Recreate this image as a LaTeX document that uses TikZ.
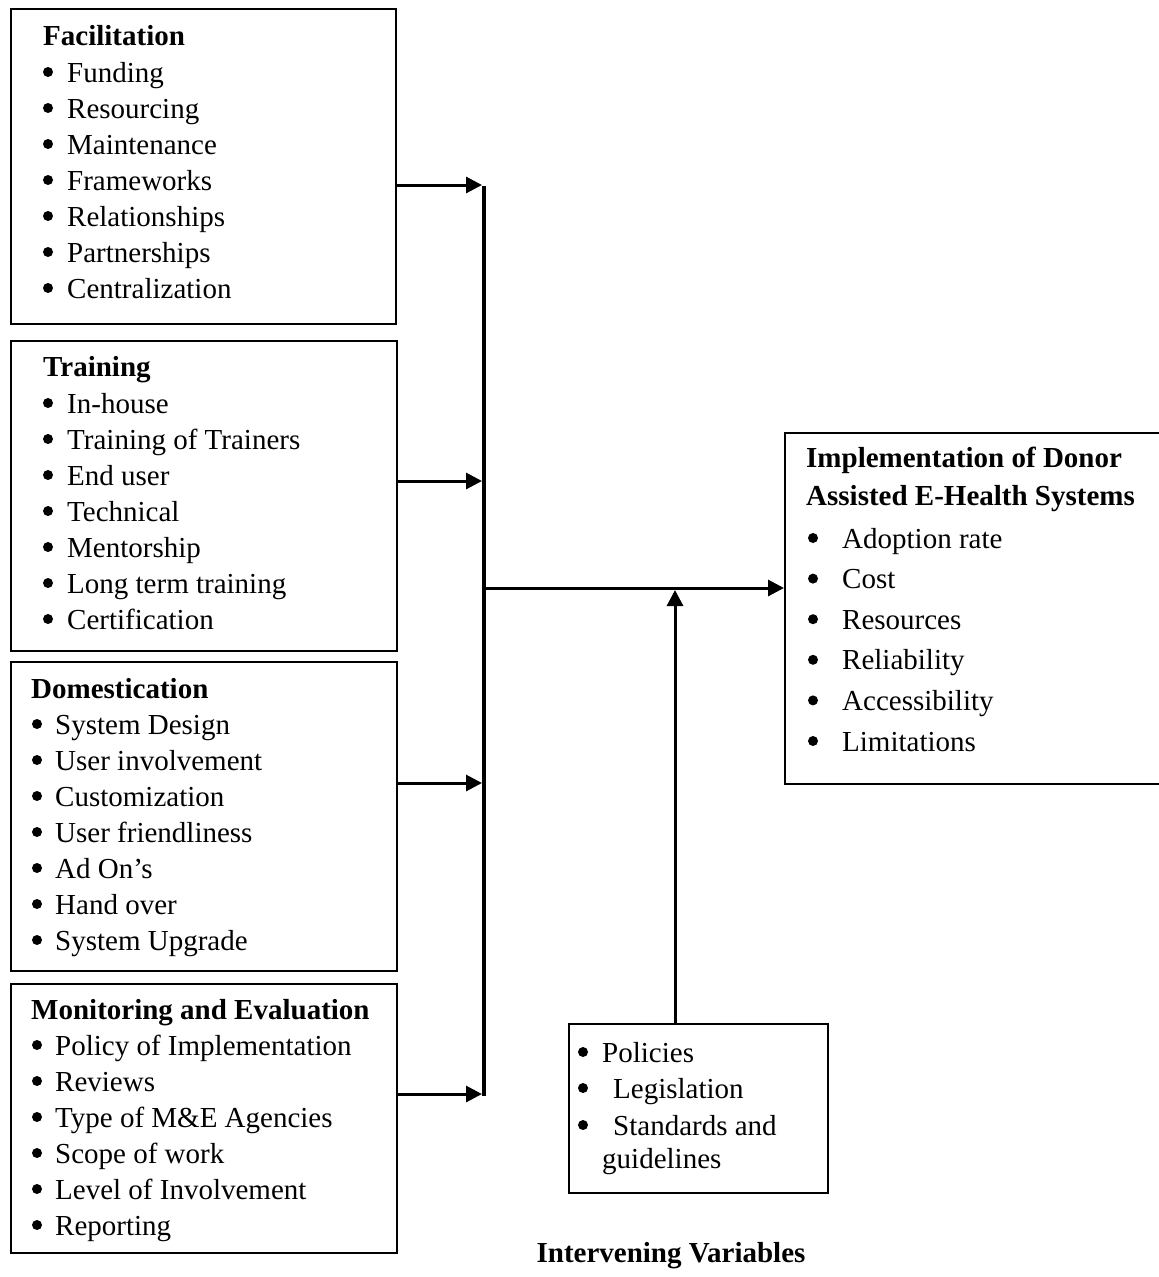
\documentclass[tikz,border=0pt]{standalone}
\usepackage{fontspec}
\setmainfont{Liberation Serif}
\usetikzlibrary{arrows.meta}
\begin{document}
\begin{tikzpicture}[x=1pt,y=-1pt,
  box/.style={draw, line width=2pt, anchor=north west, inner sep=0pt},
  txt/.style={anchor=base west, inner sep=0pt, font=\fontsize{29}{36}\selectfont},
  ttl/.style={anchor=base west, inner sep=0pt, font=\fontsize{29}{36}\selectfont\bfseries},
  dot/.style={circle, fill=black, inner sep=0pt, minimum size=10pt},
  arr/.style={line width=3pt, -{Triangle[length=16pt,width=16pt]}},
  bus/.style={line width=4pt}]
\useasboundingbox (0,0) rectangle (1159,1277);

% boxes
\node[box, minimum width=385pt, minimum height=315pt] (b1) at (10,8) {};
\node[box, minimum width=386pt, minimum height=310pt] (b2) at (10,340) {};
\node[box, minimum width=386pt, minimum height=309pt] (b3) at (10,661) {};
\node[box, minimum width=386pt, minimum height=269pt] (b4) at (10,983) {};
\node[box, minimum width=380pt, minimum height=351pt] (R) at (784,432) {};
\node[box, minimum width=259pt, minimum height=169pt] (I) at (568,1023) {};

% box 1
\node[ttl] (t1) at (43,45) {Facilitation};
\foreach \t [count=\i from 0] in {Funding,Resourcing,Maintenance,Frameworks,Relationships,Partnerships,Centralization}{
  \node[dot] (p1b\i) at (48,{72+36*\i}) {};
  \node[txt] (p1t\i) at (67,{82+36*\i}) {\t};
}
% box 2
\node[ttl] (t2) at (43,376) {Training};
\foreach \t [count=\i from 0] in {In-house,Training of Trainers,End user,Technical,Mentorship,Long term training,Certification}{
  \node[dot] (p2b\i) at (48,{403+36*\i}) {};
  \node[txt] (p2t\i) at (67,{413+36*\i}) {\t};
}
% box 3
\node[ttl] (t3) at (31,698) {Domestication};
\foreach \t [count=\i from 0] in {System Design,User involvement,Customization,User friendliness,Ad On’s,Hand over,System Upgrade}{
  \node[dot] (p3b\i) at (37,{724+36*\i}) {};
  \node[txt] (p3t\i) at (55,{734+36*\i}) {\t};
}
% box 4
\node[ttl] (t4) at (31,1019) {Monitoring and Evaluation};
\foreach \t [count=\i from 0] in {Policy of Implementation,Reviews,Type of M\&E Agencies,Scope of work,Level of Involvement,Reporting}{
  \node[dot] (p4b\i) at (37,{1045+36*\i}) {};
  \node[txt] (p4t\i) at (55,{1055+36*\i}) {\t};
}
% right box
\node[ttl] (tr1) at (806,467) {Implementation of Donor};
\node[ttl] (tr2) at (806,505) {Assisted E-Health Systems};
\foreach \t [count=\i from 0] in {Adoption rate,Cost,Resources,Reliability,Accessibility,Limitations}{
  \node[dot] (prb\i) at (813,{538+40.6*\i}) {};
  \node[txt] (prt\i) at (842,{548+40.6*\i}) {\t};
}
% intervening box
\node[dot] (pib0) at (583,1052) {};
\node[txt] (pit0) at (602,1062) {Policies};
\node[dot] (pib1) at (583,1088) {};
\node[txt] (pit1) at (613,1098) {Legislation};
\node[dot] (pib2) at (583,1125) {};
\node[txt] (pit2) at (613,1135) {Standards and};
\node[txt] (pit3) at (602,1168) {guidelines};

\node[anchor=base, inner sep=0pt, font=\fontsize{29}{36}\selectfont\bfseries] (iv) at (671,1262) {Intervening Variables};

% connectors
\coordinate (bt) at (484,186);
\coordinate (bb) at (484,1096);
\draw[bus] (bt) -- (bb);
\coordinate (j1) at (482,185);
\coordinate (j2) at (482,481);
\coordinate (j3) at (482,783);
\coordinate (j4) at (482,1094);
\draw[arr] (b1.east |- j1) -- (j1);
\draw[arr] (b2.east |- j2) -- (j2);
\draw[arr] (b3.east |- j3) -- (j3);
\draw[arr] (b4.east |- j4) -- (j4);
\coordinate (m) at (482,588);
\draw[arr] (m) -- (R.west |- m);
\coordinate (v) at (675,590);
\draw[arr] (I.north -| v) -- (v);
\end{tikzpicture}
\end{document}
